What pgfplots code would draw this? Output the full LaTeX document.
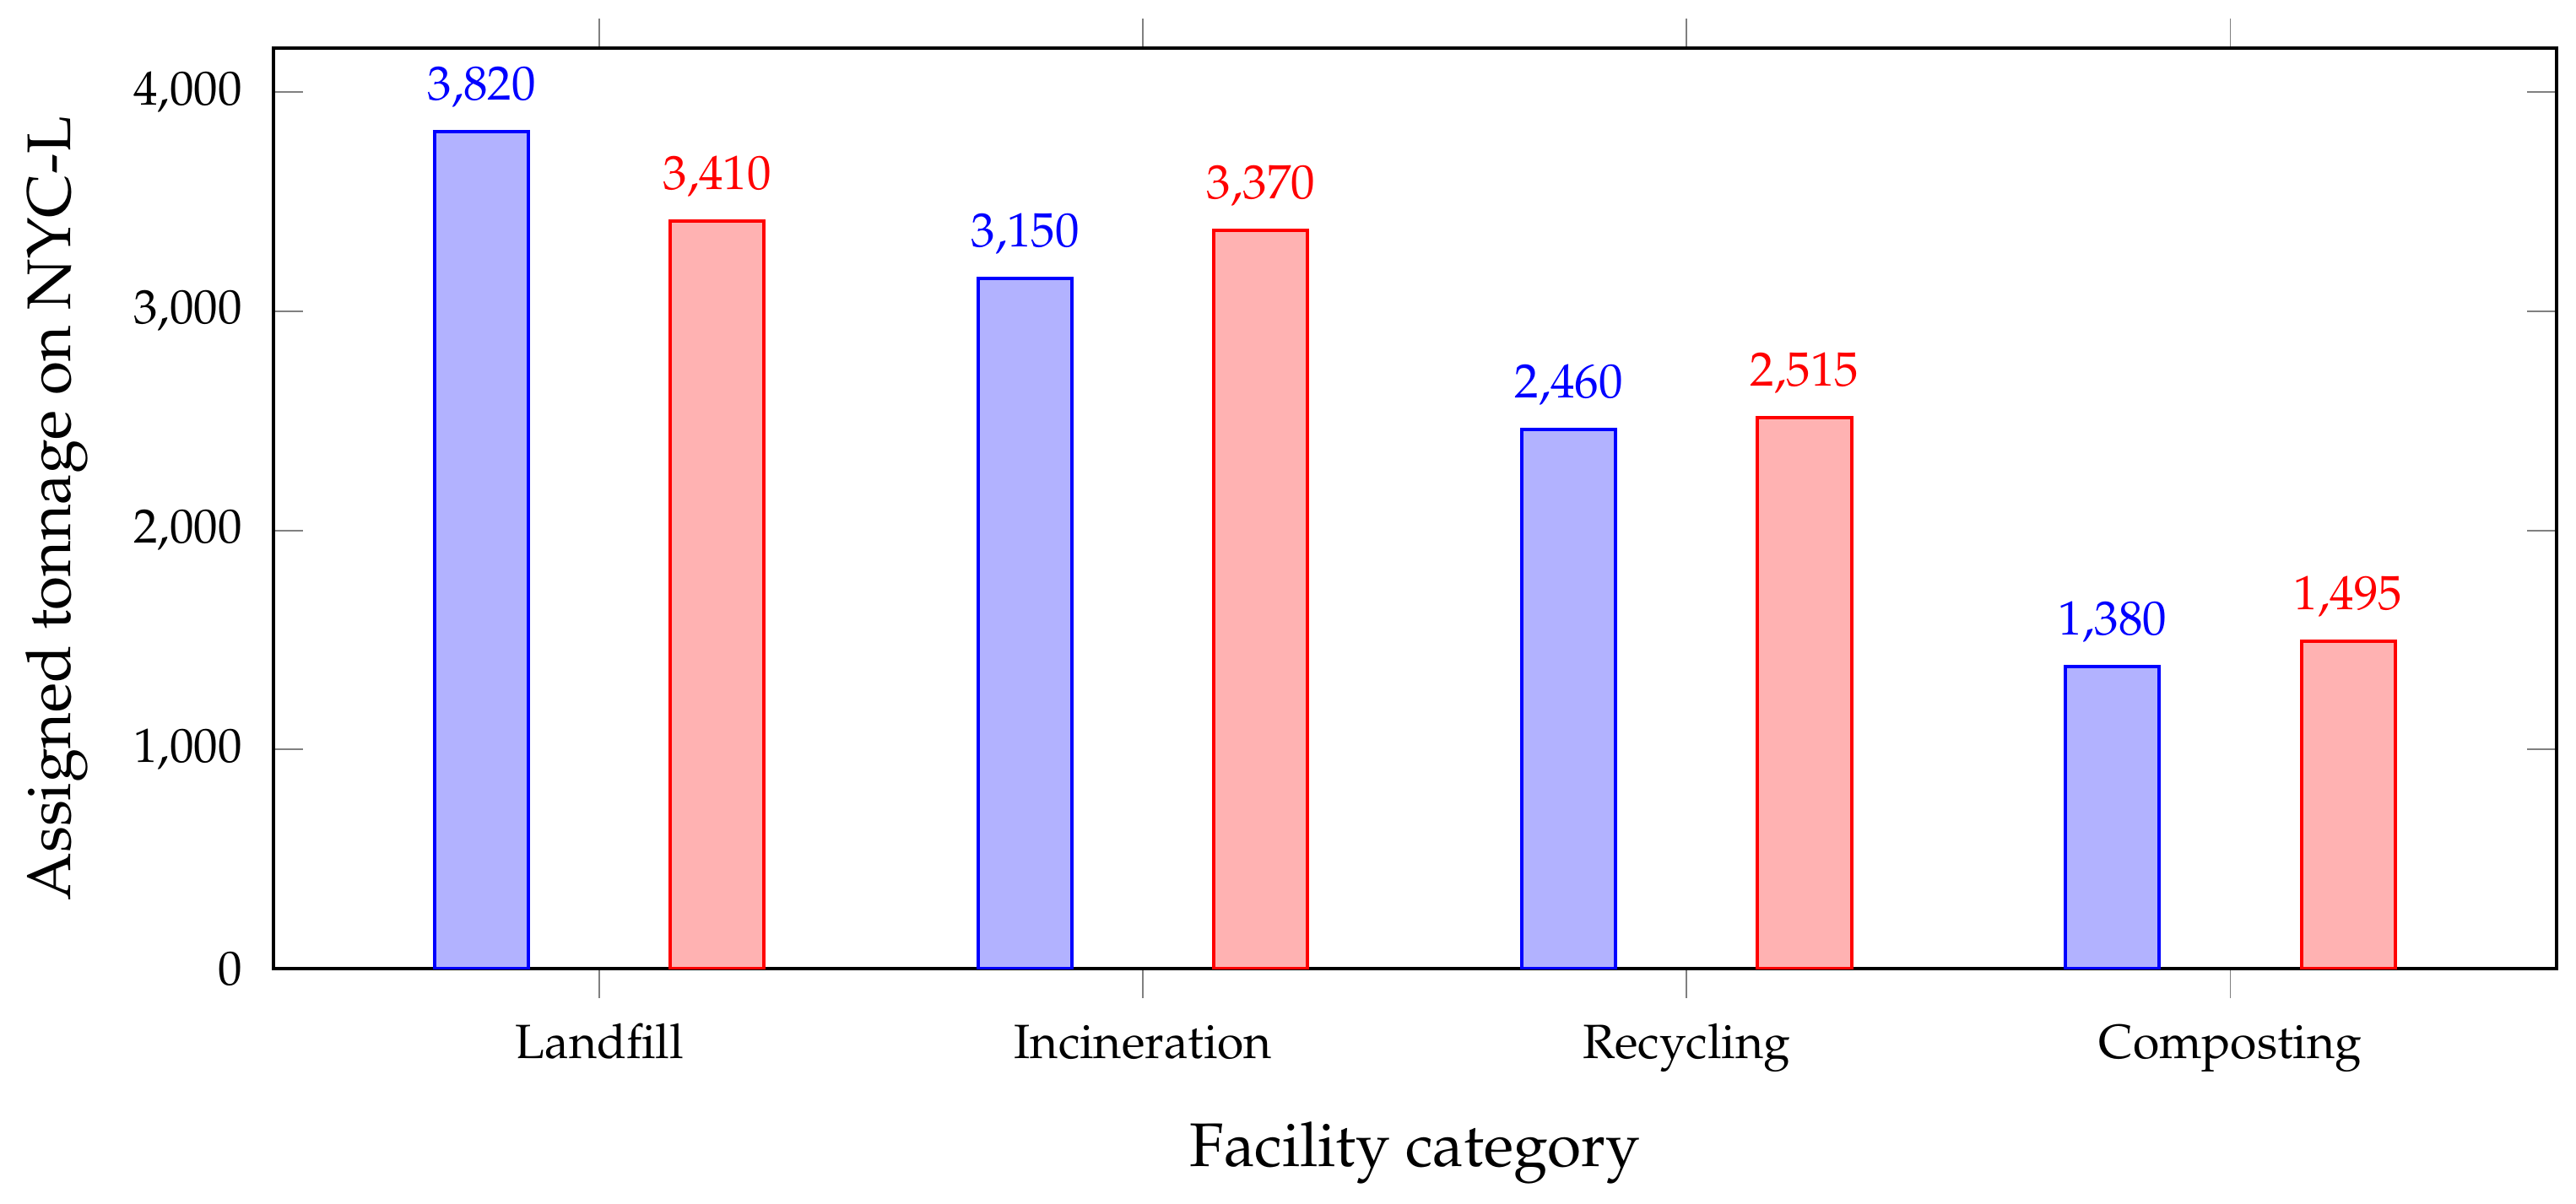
\documentclass[border=0pt]{standalone}
\usepackage[T1]{fontenc}
\usepackage{mathpazo}
\usepackage{pgfplots}
\pgfplotsset{compat=1.18}
\begin{document}
\begin{tikzpicture}
\begin{axis}[
  scale only axis,
  width=474.4pt, height=191.4pt,
  xmin=-0.6, xmax=3.6, ymin=0, ymax=4200,
  xtick={0,1,2,3},
  xticklabels={Landfill,Incineration,Recycling,Composting},
  ytick={0,1000,2000,3000,4000},
  scaled y ticks=false,
  axis line style={line width=0.7pt},
  xtick align=outside, ytick align=inside,
  major tick length=6.1pt,
  tick style={gray, line width=0.35pt},
  tick label style={font=\fontsize{10}{12}\selectfont},
  yticklabel style={xshift=-3pt},
  xticklabel style={anchor=base, yshift=-12.6pt},
  label style={font=\fontsize{12.8}{15}\selectfont},
  xlabel={Facility category},
  ylabel={Assigned tonnage on NYC-L},
  xlabel style={at={(axis description cs:0.5,0)}, anchor=base, yshift=-41pt},
  ylabel style={at={(axis description cs:0,0.5)}, anchor=base, yshift=42.1pt},
  ybar, bar width=0.1724,
  nodes near coords,
  every node near coord/.append style={font=\fontsize{10}{12}\selectfont, yshift=1.3pt},
]
\addplot[draw=blue, fill=blue!30, line width=0.7pt, bar shift=-0.2167,
  every node near coord/.append style={text=blue}]
  coordinates {(0,3820) (1,3150) (2,2460) (3,1380)};
\addplot[draw=red, fill=red!30, line width=0.7pt, bar shift=0.2167,
  every node near coord/.append style={text=red}]
  coordinates {(0,3410) (1,3370) (2,2515) (3,1495)};
\end{axis}
\path ([shift={(-2.1pt,-0.9pt)}]current bounding box.south west) rectangle ([shift={(3.7pt,3.7pt)}]current bounding box.north east);
\end{tikzpicture}
\end{document}
